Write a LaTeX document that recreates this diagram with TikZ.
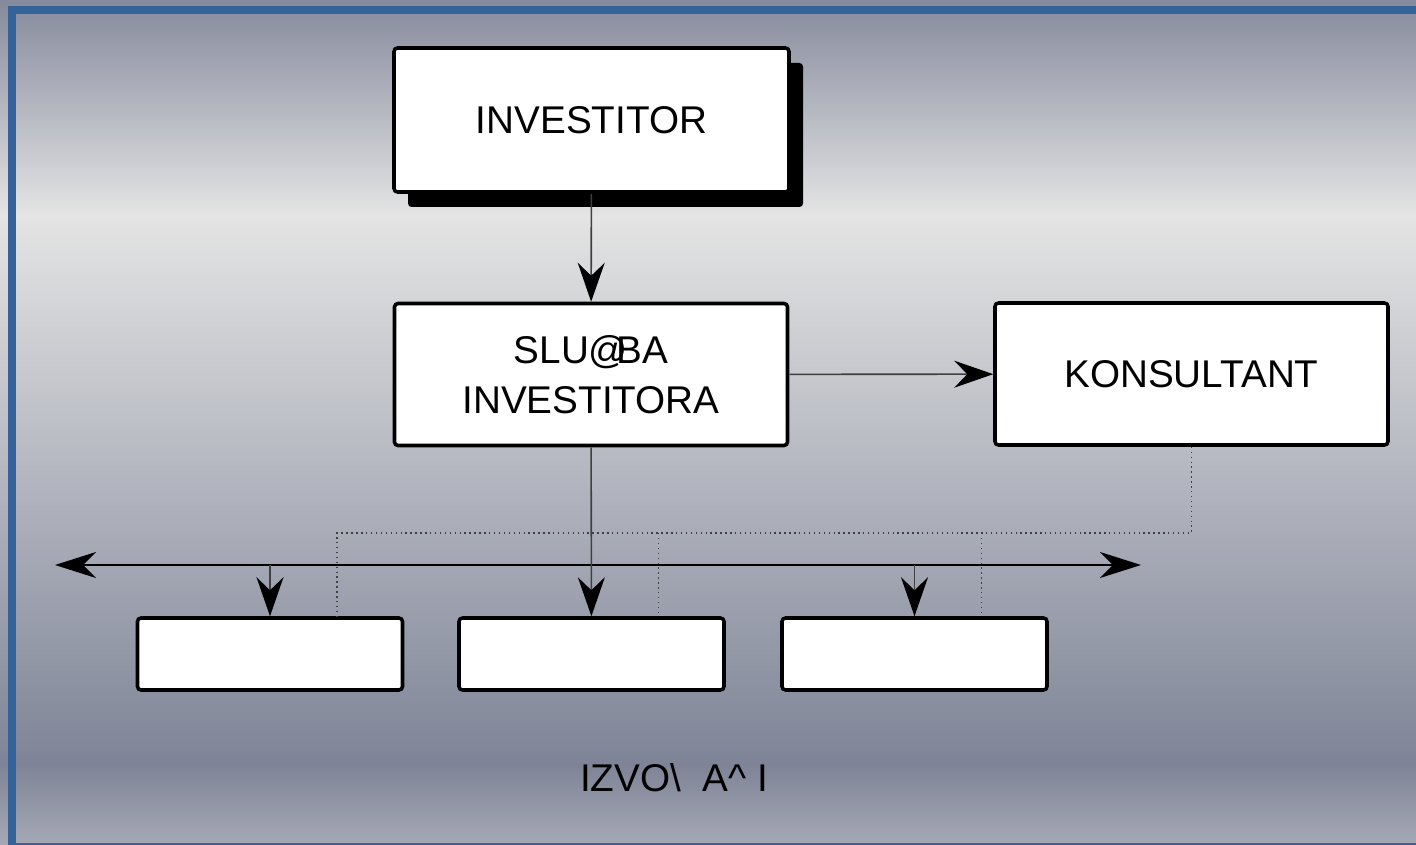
\documentclass[tikz,border=0pt]{standalone}
\usepackage{fontspec}
\setmainfont{Liberation Sans}
\usetikzlibrary{arrows.meta,positioning,calc,shadows}
\definecolor{frameblue}{HTML}{36629A}
\definecolor{bgtop}{HTML}{858A9C}
\definecolor{bglight}{HTML}{E4E4E4}
\definecolor{bgdark}{HTML}{7E8497}
\definecolor{bgbottom}{HTML}{A6A9B5}
\definecolor{linegray}{HTML}{404040}

\begin{document}
\begin{tikzpicture}[>=Latex,
  orgbox/.style={draw=black,line width=1pt,fill=white,rounded corners=1pt,
    minimum width=3.93cm,minimum height=1.42cm,align=center,inner sep=2pt,
    font=\fontsize{11}{14.2}\selectfont},
  izvbox/.style={draw=black,line width=1pt,fill=white,rounded corners=1pt,
    minimum width=2.65cm,minimum height=0.72cm},
  arr/.style={-{Stealth[length=3.9mm,width=2.7mm,inset=1.3mm,black]},line width=0.45pt,linegray},
  busarr/.style={{Stealth[length=4.1mm,width=2.6mm,inset=1.3mm]}-{Stealth[length=4.1mm,width=2.6mm,inset=1.3mm]},
    line width=0.5pt,black},
  link/.style={densely dotted,line width=0.4pt,linegray}]

\useasboundingbox (0,0) rectangle (14.16,8.45);
\shade[top color=bgtop,bottom color=bglight] (0,6.30) rectangle (14.16,8.45);
\shade[top color=bglight,bottom color=bgdark] (0,0.80) rectangle (14.16,6.30);
\shade[top color=bgdark,bottom color=bgbottom] (0,0) rectangle (14.16,0.80);
\draw[frameblue,line width=0.08cm] (14.3,8.35) -- (0.12,8.35) -- (0.12,-0.02) -- (14.3,-0.02);

\node[orgbox,minimum width=3.95cm,minimum height=1.44cm,
  drop shadow={shadow xshift=1.4mm,shadow yshift=-1.5mm,fill=black,opacity=1}]
  (investitor) at (5.915,7.25) {INVESTITOR};
\node[orgbox] (sluzba) at (5.91,4.705) {SLU@\kern-.3em BA\\INVESTITORA};
\node[orgbox] (konsultant) at (11.915,4.71) {KONSULTANT};

\node[izvbox] (izv1) at (2.70,1.91) {};
\node[izvbox] (izv2) at (5.915,1.91) {};
\node[izvbox] (izv3) at (9.145,1.91) {};
\node[font=\fontsize{11}{13}\selectfont] (izvodjaci) at (6.74,0.67)
  {IZVO\textbackslash{}\ \ A\textasciicircum{}\ I};

\coordinate (busL) at (0.55,2.80);
\coordinate (busR) at (11.41,2.80);
\coordinate (linkY) at (0,3.12);
\coordinate (t1) at ($(izv1.north west)!0.75!(izv1.north east)$);
\coordinate (t2) at ($(izv2.north west)!0.75!(izv2.north east)$);
\coordinate (t3) at ($(izv3.north west)!0.75!(izv3.north east)$);

\draw[link] (konsultant.south) |- (t1 |- linkY) -- (t1);
\draw[link] (t2 |- linkY) -- (t2);
\draw[link] (t3 |- linkY) -- (t3);

\draw[arr] (investitor) -- (sluzba);
\draw[arr] (sluzba) -- (konsultant);
\draw[busarr] (busL) -- (busR);
\draw[arr] (sluzba) -- (izv2);
\draw[arr] (izv1.north |- busL) -- (izv1);
\draw[arr] (izv3.north |- busL) -- (izv3);
\end{tikzpicture}
\end{document}
